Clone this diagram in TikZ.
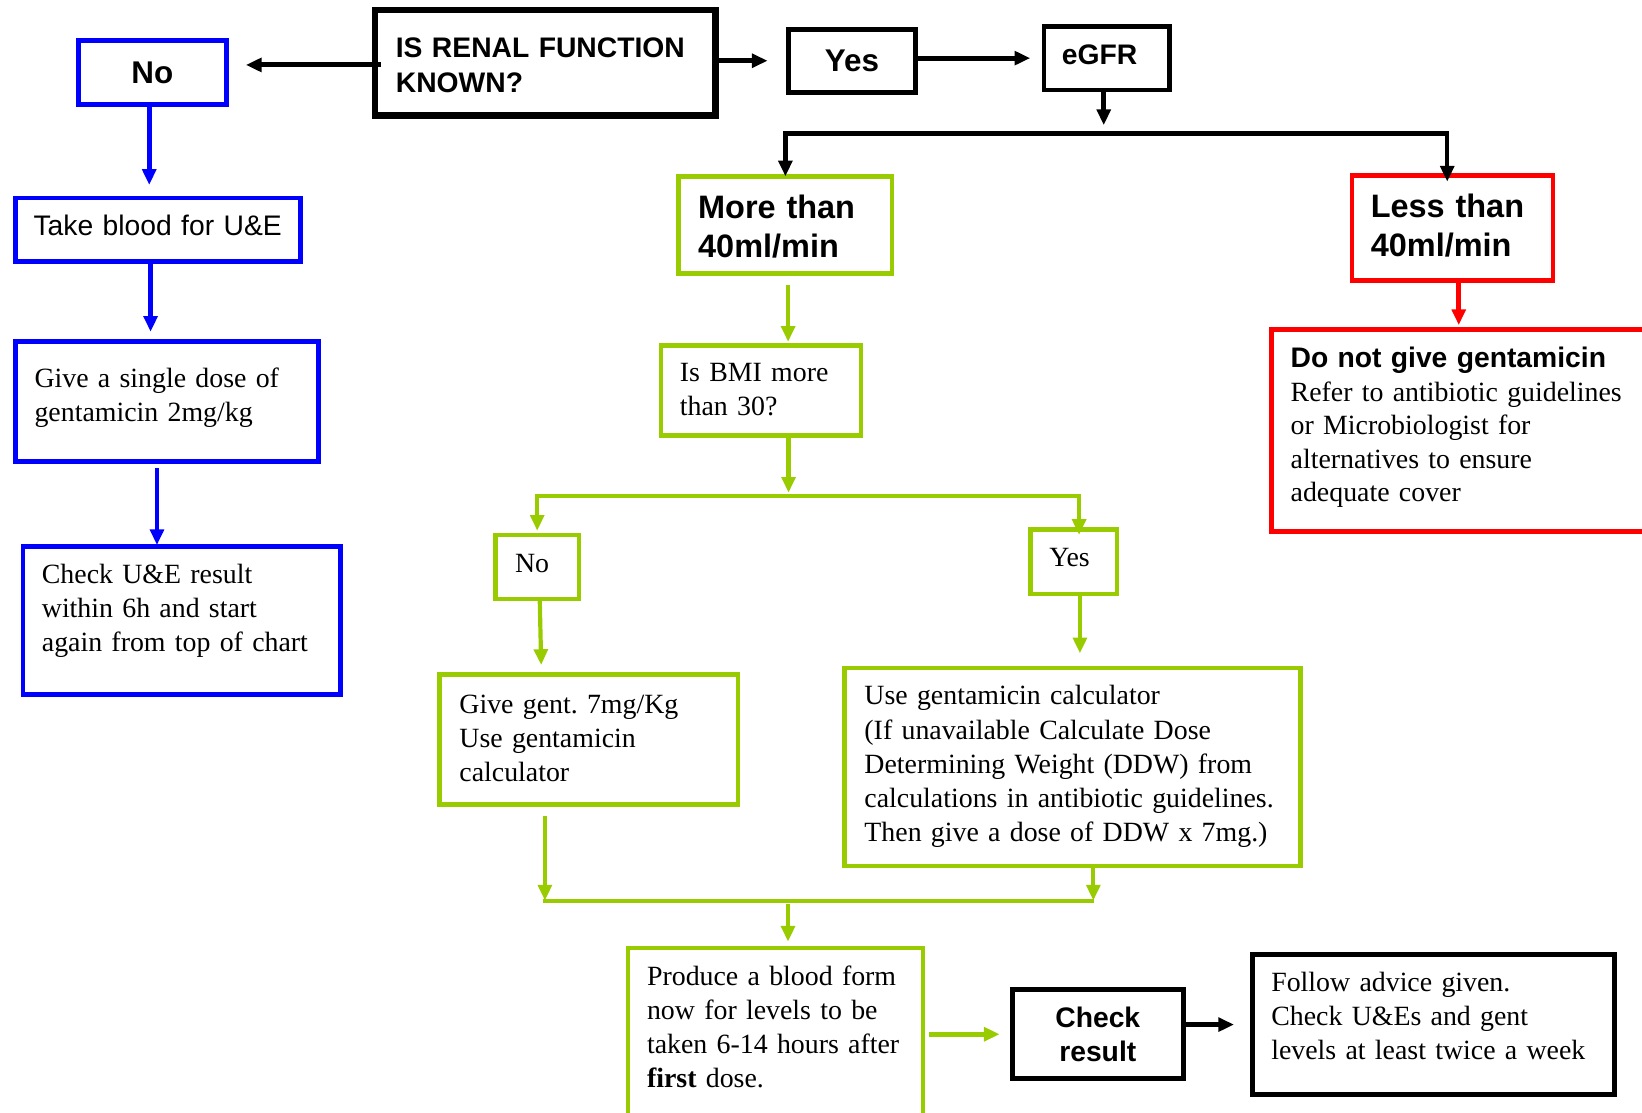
\documentclass[tikz,border=0pt]{standalone}
\usepackage{fontspec}
\setmainfont{Liberation Serif}
\setsansfont{Liberation Sans}
\usetikzlibrary{arrows.meta,calc}
\definecolor{cblue}{RGB}{0,0,255}
\definecolor{cgreen}{RGB}{153,204,0}
\definecolor{cred}{RGB}{255,0,0}
\newcommand{\serifT}{\rmfamily\frenchspacing\fontsize{13.3pt}{16.3pt}\selectfont}
\newcommand{\serifD}{\rmfamily\frenchspacing\fontsize{13.3pt}{16pt}\selectfont}
\newcommand{\sansT}{\sffamily\fontsize{13.5pt}{16.5pt}\selectfont}
\newcommand{\sansB}{\sffamily\bfseries\fontsize{13.5pt}{16.5pt}\selectfont}
\newcommand{\sansBig}{\sffamily\bfseries\fontsize{15.5pt}{18.5pt}\selectfont}
\newcommand{\sansMid}{\sffamily\bfseries\fontsize{15pt}{18pt}\selectfont}
\begin{document}
\begin{tikzpicture}[x=0.5pt,y=-0.5pt,
  box/.style={draw, anchor=north west, inner ysep=0pt, outer sep=0pt, align=left, font=\serifT},
  bbox/.style={box, draw=cblue, line width=2.25pt},
  gbox/.style={box, draw=cgreen, line width=2.1pt},
  rbox/.style={box, draw=cred, line width=2.3pt},
  kbox/.style={box, draw=black, line width=2.25pt},
  tipped/.style={-{Triangle[length=7.5pt,width=6.5pt]}},
  karrow/.style={tipped, draw=black, line width=2.4pt},
  barrow/.style={tipped, draw=cblue, line width=2.2pt},
  rarrow/.style={tipped, draw=cred, line width=2.2pt},
  garrow/.style={tipped, draw=cgreen, line width=2pt},
  gline/.style={draw=cgreen, line width=2pt}
]
\useasboundingbox (0,0) rectangle (1568,1062);

% ---- nodes ----
\node[kbox, line width=3.15pt, inner xsep=10pt, text width=142.5pt, text height=22.75pt, text depth=27.75pt, font=\sansB] (renal) at (358,9.5) {IS RENAL FUNCTION\\KNOWN?};
\node[bbox, inner xsep=5pt, text width=60.5pt, text height=20.5pt, text depth=10pt, align=center, font=\sansMid] (noL) at (75,39) {No};
\node[kbox, inner xsep=5pt, text width=50.5pt, text height=19.9pt, text depth=10.35pt, align=center, font=\sansMid] (yesT) at (753,28) {Yes};
\node[kbox, inner xsep=8.5pt, text width=43pt, text height=18.5pt, text depth=12pt, font=\sansB] (egfr) at (997,25) {eGFR};
\node[bbox, inner xsep=8.5pt, text width=119pt, text height=17.7pt, text depth=12.55pt, font=\sansT] (take) at (15,189) {Take blood for U\&E};
\node[bbox, inner xsep=9pt, text width=126.5pt, text height=22.1pt, text depth=35.15pt] (single) at (15,326) {Give a single dose of\\gentamicin 2mg/kg};
\node[bbox, inner xsep=9pt, text width=133.5pt, text height=17.65pt, text depth=53.2pt] (check) at (22,521.7) {Check U\&E result\\within 6h and start\\again from top of chart};
\node[gbox, inner xsep=9.35pt, text width=83.3pt, text height=20.05pt, text depth=26.4pt, font=\sansBig] (more) at (648,168.4) {More than\\40ml/min};
\node[rbox, inner xsep=9pt, text width=78pt, text height=20.2pt, text depth=30.05pt, font=\sansBig] (less) at (1291,167.5) {Less than\\40ml/min};
\node[gbox, inner xsep=9.15pt, text width=77.2pt, text height=17.25pt, text depth=25.6pt] (bmi) at (631,330) {Is BMI more\\than 30?};
\node[rbox, line width=2.5pt, inner xsep=9.25pt, text width=164.5pt, text height=18.05pt, text depth=78.1pt, font=\serifD] (donot) at (1214,315) {{\sansB Do not give gentamicin}\\Refer to antibiotic guidelines\\or Microbiologist for\\alternatives to ensure\\adequate cover};
\node[gbox, inner xsep=9.45pt, text width=21.1pt, text height=18.15pt, text depth=12.45pt] (noG) at (473,510.6) {No};
\node[gbox, inner xsep=9pt, text width=23.25pt, text height=17.65pt, text depth=12.95pt] (yesG) at (984,505.8) {Yes};
\node[gbox, inner xsep=9.5pt, text width=123.65pt, text height=18.4pt, text depth=43.6pt] (givegent) at (419.7,644.2) {Give gent. 7mg/Kg\\Use gentamicin\\calculator};
\node[gbox, inner xsep=9.5pt, text width=198.75pt, text height=17.75pt, text depth=76.9pt] (use) at (806.5,637.7) {Use gentamicin calculator\\(If unavailable Calculate Dose\\Determining Weight (DDW) from\\calculations in antibiotic guidelines.\\Then give a dose of DDW x 7mg.)};
\node[gbox, inner xsep=9.05pt, text width=122.8pt, text height=17.8pt, text depth=63.7pt] (produce) at (599.8,905) {Produce a blood form\\now for levels to be\\taken 6-14 hours after\\\textbf{first} dose.};
\node[kbox, inner xsep=5pt, text width=71.7pt, text height=18pt, text depth=24.6pt, align=center, font={\sffamily\bfseries\fontsize{13.5pt}{16.4pt}\selectfont}] (checkR) at (966.6,945) {Check\\result};
\node[kbox, inner xsep=9.15pt, text width=154.75pt, text height=17.7pt, text depth=49.1pt] (follow) at (1195.7,911.6) {Follow advice given.\\Check U\&Es and gent\\levels at least twice a week};

% ---- coordinates for free ends / junctions ----
\coordinate (egtip) at (1054,119.5);
\coordinate (bar1) at (1054,127.3);
\coordinate (bar2) at (753,473.3);
\coordinate (bar3) at (752.5,860);

% ---- connectors ----
\draw[karrow, shorten <=-3pt, shorten >=9.4pt] ([yshift=-1pt]renal.west) -- ([yshift=-1pt]renal.west -| noL.east);
\draw[karrow, shorten >=10pt] ([yshift=1pt]renal.east) -- ([yshift=1pt]renal.east -| yesT.west);
\draw[karrow, shorten >=6.6pt] (yesT.east |- egfr.west) -- (egfr.west);
\draw[karrow] (egfr.south -| egtip) -- (egtip);
\draw[{Triangle[length=7.5pt,width=6.5pt]}-{Triangle[length=7.5pt,width=6.5pt]}, draw=black, line width=2.1pt, shorten >=-3pt] (more.north) |- (bar1) -| ([xshift=-2.5pt]less.north);
\draw[rarrow, shorten >=2.3pt] ([xshift=3pt]less.south) -- ([xshift=3pt]less.south |- donot.north);

\draw[barrow, shorten >=6.2pt] ([xshift=-1.5pt]noL.south) -- ([xshift=-1.5pt]noL.south |- take.north);
\draw[barrow, shorten >=4.6pt] ([xshift=-3.6pt]take.south) -- ([xshift=-3.6pt]take.south |- single.north);
\draw[barrow, shorten <=3.4pt, shorten >=0.6pt] ([xshift=-4.8pt]single.south) -- ([xshift=-4.8pt]single.south |- check.north);

\draw[garrow, shorten <=5.4pt, shorten >=1.8pt] ([xshift=1.3pt]more.south) -- ([xshift=1.3pt]more.south |- bmi.north);
\draw[garrow, shorten >=1.4pt] (bmi.south -| bar2) -- (bar2);
\draw[{Triangle[length=7.5pt,width=6.5pt]}-{Triangle[length=7.5pt,width=6.5pt]}, draw=cgreen, line width=2pt, shorten <=1.9pt, shorten >=-2.5pt] (noG.north) |- (bar2) -| ([xshift=2.6pt]yesG.north);
\draw[garrow, shorten >=4.6pt] ([xshift=1.2pt]noG.south) -- ([xshift=2pt]noG.south |- givegent.north);
\draw[garrow, shorten >=6.9pt] ([xshift=3pt]yesG.south) -- ([xshift=3pt]yesG.south |- use.north);

\draw[gline] ([xshift=-22pt]givegent.south |- bar3) -- ([xshift=10.3pt]use.south |- bar3);
\draw[garrow, shorten <=5.4pt] ([xshift=-21pt]givegent.south) -- ([xshift=-21pt]givegent.south |- bar3);
\draw[garrow] ([xshift=9.9pt]use.south) -- ([xshift=9.9pt]use.south |- bar3);
\draw[garrow, shorten >=2.9pt] ([yshift=-1.6pt]bar3) -- (bar3 |- produce.north);

\draw[garrow, line width=2.4pt, shorten <=2.75pt, shorten >=6pt] (checkR.west -| produce.east) -- (checkR.west);
\draw[karrow, shorten >=8.65pt] (follow.west -| checkR.east) -- (follow.west);
\end{tikzpicture}
\end{document}
